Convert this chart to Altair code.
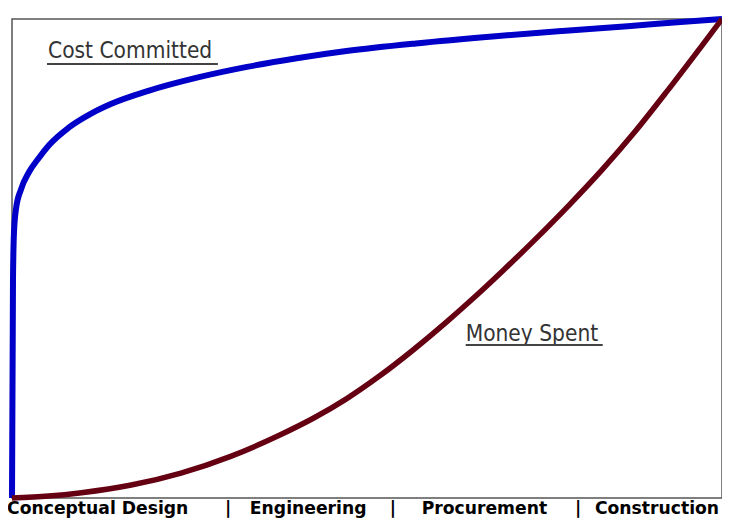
import altair as alt
import pandas as pd

# Cost committed curve (x = project progress %, y = % of total)
committed_x = [0, 0.14, 0.28, 0.56, 1.26, 2.38, 3.78, 5.17, 7.97, 11.2, 14.0, 19.2,
               26.2, 33.1, 40.1, 47.1, 56.9, 68.1, 77.5, 86.7, 93.7, 100]
committed_y = [0, 45.7, 55.5, 60.3, 64.4, 68.0, 71.0, 73.6, 77.3, 80.3, 82.3, 85.0,
               87.8, 90.0, 91.8, 93.3, 94.9, 96.4, 97.5, 98.5, 99.3, 100]

# Money spent curve
spent_x = [0, 5.17, 9.79, 16.8, 23.8, 30.8, 37.8, 42.5, 47.1, 51.7, 56.5, 61.1,
           64.3, 69.1, 73.7, 78.3, 83.1, 87.7, 92.3, 97.1, 100]
spent_y = [0, 0.4, 1.1, 2.7, 5.2, 8.7, 13.2, 16.7, 20.7, 25.4, 30.9, 36.6,
           40.8, 47.4, 54.0, 60.9, 68.5, 76.4, 85.0, 94.3, 100]

# Phase labels under the chart
phase_labels = ["Conceptual Design", "|", "Engineering", "|", "Procurement", "|", "Construction"]
phase_x = [-0.7, 30.0, 33.5, 53.2, 57.7, 79.3, 82.1]
phase_y = [-3.44] * len(phase_labels)

# Curve annotations
annot_labels = ["Cost Committed", "Money Spent"]
annot_x = [5.07, 63.9]
annot_y = [91.86, 32.78]
underline_x = [4.93, 63.9]
underline_x2 = [29.0, 83.2]
underline_y = [90.6, 31.94]

committed = pd.DataFrame({"x": committed_x, "y": committed_y})
spent = pd.DataFrame({"x": spent_x, "y": spent_y})
phases = pd.DataFrame({"label": phase_labels, "x": phase_x, "y": phase_y})
annots = pd.DataFrame({"label": annot_labels, "x": annot_x, "y": annot_y,
                       "ux": underline_x, "ux2": underline_x2, "uy": underline_y})

xs = alt.Scale(domain=[0, 100], nice=False, zero=False)
ys = alt.Scale(domain=[0, 100], nice=False, zero=False)

blue = alt.Chart(committed).mark_line(
    color="#0000C8", strokeWidth=6, interpolate="monotone", clip=False
).encode(
    x=alt.X("x:Q", scale=xs, axis=None),
    y=alt.Y("y:Q", scale=ys, axis=None),
    order="x:Q",
)

maroon = alt.Chart(spent).mark_line(
    color="#650012", strokeWidth=5.5, interpolate="monotone", clip=False
).encode(
    x=alt.X("x:Q", scale=xs, axis=None),
    y=alt.Y("y:Q", scale=ys, axis=None),
    order="x:Q",
)

phase_text = alt.Chart(phases).mark_text(
    align="left", baseline="alphabetic", font="DejaVu Sans", fontWeight="bold",
    fontSize=17.2, color="#000000"
).encode(
    x=alt.X("x:Q", scale=xs, axis=None),
    y=alt.Y("y:Q", scale=ys, axis=None),
    text="label:N",
)

annot_text = alt.Chart(annots).mark_text(
    align="left", baseline="alphabetic",
    font="DejaVu Sans Condensed, Liberation Sans, sans-serif",
    fontSize=22.5, color="#333333"
).encode(
    x=alt.X("x:Q", scale=xs, axis=None),
    y=alt.Y("y:Q", scale=ys, axis=None),
    text="label:N",
)

underline = alt.Chart(annots).mark_rule(color="#444444", strokeWidth=2).encode(
    x=alt.X("ux:Q", scale=xs, axis=None),
    x2="ux2:Q",
    y=alt.Y("uy:Q", scale=ys, axis=None),
)

chart = alt.layer(blue, maroon, annot_text, underline, phase_text).properties(
    width=710,
    height=479,
    autosize=alt.AutoSizeParams(type="none"),
    padding={"left": 4, "top": 11, "right": 0, "bottom": 21},
    background="white",
).configure_view(
    stroke="#555555", strokeWidth=1.5
)

chart.save("out.html", embed_options={"renderer": "svg", "actions": False})
